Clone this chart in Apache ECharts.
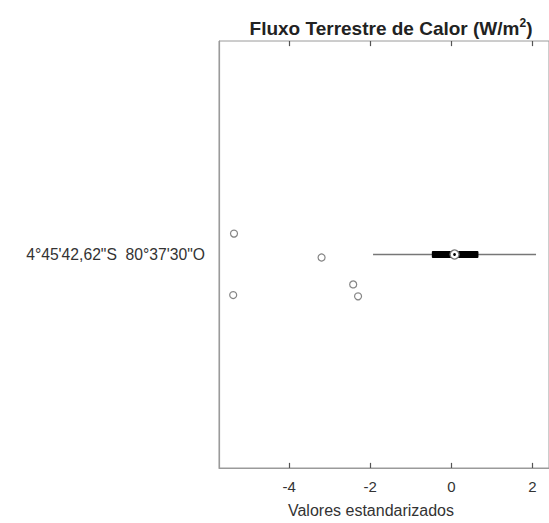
<!DOCTYPE html>
<html>
<head>
<meta charset="utf-8">
<style>
  html, body { margin: 0; padding: 0; background: #fff; }
  #chart { width: 549px; height: 523px; }
</style>
<script src="https://cdn.jsdelivr.net/npm/echarts@6/dist/echarts.min.js"></script>
</head>
<body>
<div id="chart"></div>
<script>
// Site label on the category axis
const stationLabels = ['4°45\'42,62"S  80°37\'30"O'];
// Box summary: [lower whisker, Q1, median, Q3, upper whisker]
const boxStats = [-1.93, -0.48, 0.08, 0.67, 2.09];
// Outliers (standardized value) and their jittered vertical position
const outlierValues = [-5.36, -5.38, -3.20, -2.42, -2.30];
const outlierJitter = [1.049, 0.905, 0.993, 0.930, 0.902];
// Axis ticks
const xTicks = [-4, -2, 0, 2];
const xRange = [-5.73, 2.41];
const yRange = [0.5, 1.5];
const boxPosition = 1;
const tickLen = 0.012; // tick length in y-axis units

const fontFamily = '"Liberation Sans", Arial, sans-serif';
const chart = echarts.init(document.getElementById('chart'), null, { renderer: 'svg' });

const outlierData = outlierValues.map((v, i) => [v, outlierJitter[i]]);

// inward tick marks on the bottom and top edges of the frame
const tickLines = [];
xTicks.forEach(v => {
  tickLines.push([{ coord: [v, yRange[0]] }, { coord: [v, yRange[0] + tickLen] }]);
  tickLines.push([{ coord: [v, yRange[1]] }, { coord: [v, yRange[1] - tickLen] }]);
});

chart.setOption({
  animation: false,
  backgroundColor: '#ffffff',
  title: {
    text: 'Fluxo Terrestre de Calor (W/m{sup|2})',
    left: 386,
    top: 12,
    textAlign: 'center',
    textStyle: {
      fontFamily, fontSize: 19, fontWeight: 'bold', color: '#222',
      rich: { sup: { fontFamily, fontSize: 12, fontWeight: 'bold', color: '#222', verticalAlign: 'top', padding: [0, 0, 10, 0] } }
    }
  },
  grid: { left: 219, right: -2, top: 41, bottom: 54, show: true, borderColor: '#9a9a9a', borderWidth: 1 },
  xAxis: {
    type: 'value', min: xRange[0], max: xRange[1],
    name: 'Valores estandarizados', nameLocation: 'middle', nameGap: 34,
    nameTextStyle: { fontFamily, fontSize: 16, color: '#333', padding: [0, 26, 0, 0] },
    axisLine: { show: true, onZero: false, lineStyle: { color: '#9a9a9a', width: 1.2 } },
    axisTick: { show: false },
    axisLabel: { customValues: xTicks, margin: 11, fontFamily, fontSize: 15, color: '#333' },
    splitLine: { show: false }
  },
  yAxis: {
    type: 'value', min: yRange[0], max: yRange[1],
    axisLine: { show: true, onZero: false, lineStyle: { color: '#9a9a9a', width: 1.2 } },
    axisTick: { show: false },
    axisLabel: {
      customValues: [boxPosition], margin: 14, fontFamily, fontSize: 15.7, color: '#333',
      formatter: () => stationLabels[0]
    },
    splitLine: { show: false }
  },
  series: [
    {
      type: 'custom',
      coordinateSystem: 'cartesian2d',
      data: [[boxPosition].concat(boxStats)],
      renderItem: function (params, api) {
        const y = api.value(0);
        const lo = api.coord([api.value(1), y]);
        const q1 = api.coord([api.value(2), y]);
        const md = api.coord([api.value(3), y]);
        const q3 = api.coord([api.value(4), y]);
        const hi = api.coord([api.value(5), y]);
        return {
          type: 'group',
          children: [
            { type: 'line', shape: { x1: lo[0], y1: lo[1], x2: hi[0], y2: hi[1] },
              style: { stroke: '#777', lineWidth: 1.3 } },
            { type: 'rect', shape: { x: q1[0], y: q1[1] - 3.5, width: q3[0] - q1[0], height: 7, r: 1 },
              style: { fill: '#000' } },
            { type: 'circle', shape: { cx: md[0], cy: md[1], r: 4.5 },
              style: { fill: '#fff', stroke: '#777', lineWidth: 1.3 } },
            { type: 'circle', shape: { cx: md[0], cy: md[1], r: 1.4 },
              style: { fill: '#000' } }
          ]
        };
      },
      z: 3
    },
    {
      type: 'scatter',
      data: outlierData,
      symbol: 'circle',
      symbolSize: 7,
      itemStyle: { color: '#fff', borderColor: '#666', borderWidth: 1.2 },
      markLine: {
        silent: true,
        symbol: ['none', 'none'],
        label: { show: false },
        lineStyle: { color: '#555', width: 1.2, type: 'solid' },
        data: tickLines
      },
      z: 4
    }
  ]
});
</script>
</body>
</html>
